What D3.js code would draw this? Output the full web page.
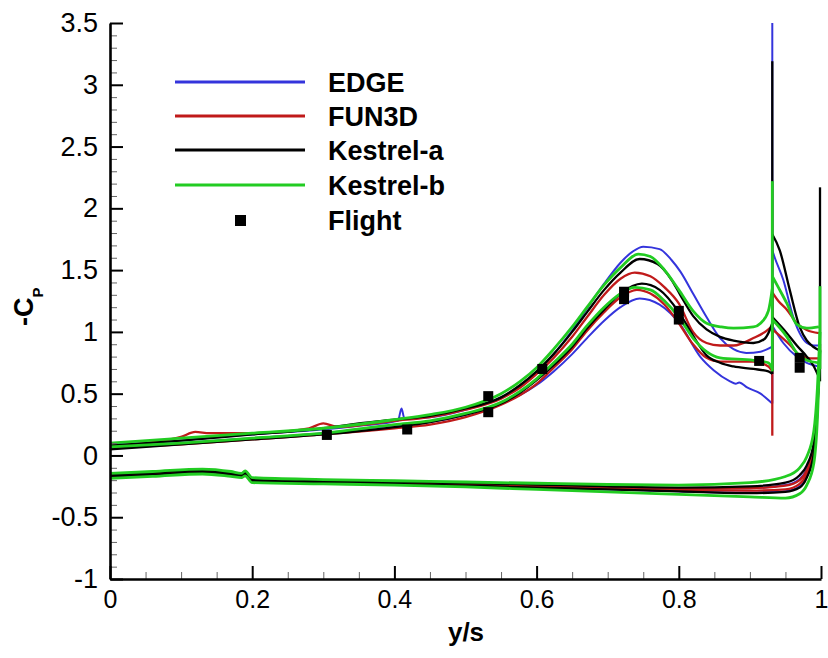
<!DOCTYPE html>
<html>
<head>
<meta charset="utf-8">
<script src="https://cdn.jsdelivr.net/npm/d3@7"></script>
<style>
  html, body { margin: 0; padding: 0; background: #fff; }
  svg text { font-family: "Liberation Sans", Arial, Helvetica, sans-serif; }
</style>
</head>
<body>
<svg id="chart" width="828" height="658"></svg>
<script>
// ---------------- DATA ----------------
const seriesNames = ["EDGE", "FUN3D", "Kestrel-a", "Kestrel-b"];
const xTicks = [0, 0.2, 0.4, 0.6, 0.8, 1];
const yTicks = [-1, -0.5, 0, 0.5, 1, 1.5, 2, 2.5, 3, 3.5];
const xTickLabels = ["0", "0.2", "0.4", "0.6", "0.8", "1"];
const yTickLabels = ["-1", "-0.5", "0", "0.5", "1", "1.5", "2", "2.5", "3", "3.5"];

// Flight data
const flightX  = [0.305, 0.418, 0.532, 0.532, 0.608, 0.723, 0.723, 0.80, 0.80, 0.913, 0.97, 0.97];
const flightCp = [0.166, 0.21, 0.48, 0.35, 0.70, 1.325, 1.265, 1.17, 1.10, 0.765, 0.79, 0.71];

// EDGE upper surface (two cases), outboard part, spike
const edgeUp1 = [[0,0.09],[0.05,0.1],[0.1,0.12],[0.15,0.15],[0.2,0.17],[0.25,0.19],[0.3,0.21],[0.35,0.24],[0.405,0.28],[0.41,0.38],[0.414,0.3],[0.45,0.31],[0.5,0.37],[0.55,0.47],[0.577,0.56],[0.6,0.67],[0.624,0.82],[0.65,1.01],[0.671,1.19],[0.695,1.39],[0.718,1.56],[0.735,1.65],[0.75,1.69],[0.773,1.67],[0.79,1.58],[0.802,1.49],[0.821,1.3],[0.839,1.12],[0.858,0.95],[0.877,0.86],[0.895,0.83],[0.915,0.84],[0.9315,0.88]];
const edgeUp2 = [[0,0.07],[0.1,0.1],[0.2,0.14],[0.3,0.18],[0.4,0.24],[0.45,0.27],[0.5,0.33],[0.55,0.42],[0.577,0.49],[0.6,0.57],[0.624,0.68],[0.65,0.82],[0.671,0.95],[0.695,1.09],[0.718,1.2],[0.745,1.27],[0.773,1.22],[0.802,1.06],[0.83,0.8],[0.849,0.69],[0.872,0.6],[0.88,0.58],[0.885,0.59],[0.896,0.55],[0.915,0.5],[0.9315,0.42]];
const edgeOut1 = [[0.9315,1.66],[0.935,1.6],[0.947,1.42],[0.961,1.12],[0.97,0.99],[0.98,0.91],[0.99,0.89],[0.998,0.89]];
const edgeOut2 = [[0.9315,1.05],[0.947,0.91],[0.966,0.8],[0.98,0.75],[0.998,0.72]];
const edgeSpike = [[0.9315,0.42],[0.9315,3.5]];

// FUN3D
const fun3dUp1 = [[0,0.08],[0.05,0.1],[0.1,0.15],[0.12,0.19],[0.14,0.18],[0.2,0.18],[0.28,0.22],[0.3,0.26],[0.32,0.23],[0.4,0.28],[0.45,0.31],[0.5,0.37],[0.55,0.46],[0.577,0.55],[0.6,0.66],[0.624,0.79],[0.65,0.96],[0.671,1.12],[0.695,1.3],[0.718,1.43],[0.738,1.48],[0.76,1.45],[0.78,1.36],[0.8,1.23],[0.82,1.0],[0.839,0.91],[0.858,0.89],[0.877,0.89],[0.905,0.95],[0.926,1.02],[0.9315,1.05]];
const fun3dUp2 = [[0,0.06],[0.1,0.09],[0.2,0.13],[0.3,0.17],[0.4,0.22],[0.45,0.25],[0.5,0.31],[0.55,0.41],[0.577,0.49],[0.6,0.58],[0.624,0.71],[0.65,0.86],[0.671,1.01],[0.695,1.16],[0.718,1.28],[0.741,1.34],[0.76,1.31],[0.78,1.22],[0.8,1.07],[0.82,0.9],[0.839,0.79],[0.858,0.76],[0.905,0.76],[0.926,0.72],[0.9315,0.68]];
const fun3dOut1 = [[0.9315,1.32],[0.94,1.25],[0.952,1.18],[0.966,1.07],[0.98,1.015],[0.997,0.99]];
const fun3dOut2 = [[0.9315,1.02],[0.957,0.89],[0.97,0.81],[0.985,0.786],[0.997,0.786]];
const fun3dSpike = [[0.9315,0.16],[0.9315,1.3]];

// Kestrel-a
const kestAUp1 = [[0,0.08],[0.1,0.12],[0.2,0.17],[0.3,0.22],[0.35,0.26],[0.4,0.29],[0.45,0.32],[0.5,0.38],[0.55,0.47],[0.577,0.57],[0.6,0.68],[0.624,0.82],[0.65,1.0],[0.671,1.16],[0.695,1.34],[0.718,1.48],[0.745,1.59],[0.77,1.55],[0.79,1.42],[0.802,1.3],[0.82,1.13],[0.839,1.02],[0.858,0.96],[0.877,0.93],[0.905,0.91],[0.92,0.94],[0.926,0.99],[0.9315,1.07]];
const kestAUp2 = [[0,0.05],[0.1,0.09],[0.2,0.13],[0.3,0.17],[0.4,0.23],[0.45,0.27],[0.5,0.33],[0.55,0.42],[0.577,0.51],[0.6,0.61],[0.624,0.73],[0.65,0.88],[0.671,1.03],[0.695,1.18],[0.718,1.31],[0.748,1.39],[0.773,1.34],[0.8,1.16],[0.82,0.97],[0.839,0.81],[0.858,0.75],[0.877,0.72],[0.905,0.7],[0.926,0.68],[0.9315,0.66]];
const kestAOut1 = [[0.9315,1.79],[0.942,1.66],[0.956,1.34],[0.97,1.04],[0.98,0.93],[0.989,0.88],[0.998,0.85]];
const kestAOut2 = [[0.9315,1.12],[0.952,0.99],[0.966,0.89],[0.98,0.8],[0.99,0.72],[0.998,0.62]];
const kestASpike = [[0.9315,0.66],[0.9315,3.19]];
const kestATipSpike = [[0.9986,0.6],[0.9986,2.17]];

// Kestrel-b
const kestBUp1 = [[0,0.1],[0.1,0.14],[0.2,0.18],[0.3,0.22],[0.4,0.29],[0.45,0.33],[0.5,0.39],[0.55,0.5],[0.577,0.6],[0.6,0.71],[0.624,0.86],[0.65,1.04],[0.671,1.2],[0.695,1.38],[0.718,1.52],[0.743,1.63],[0.76,1.61],[0.78,1.5],[0.8,1.34],[0.82,1.17],[0.839,1.07],[0.86,1.04],[0.877,1.03],[0.905,1.04],[0.915,1.07],[0.926,1.17],[0.9315,1.35]];
const kestBUp2 = [[0,0.07],[0.1,0.1],[0.2,0.14],[0.3,0.18],[0.4,0.25],[0.45,0.28],[0.5,0.34],[0.55,0.43],[0.577,0.52],[0.6,0.62],[0.624,0.75],[0.65,0.9],[0.671,1.05],[0.695,1.2],[0.718,1.31],[0.738,1.36],[0.76,1.34],[0.78,1.25],[0.8,1.12],[0.82,0.95],[0.839,0.84],[0.858,0.79],[0.905,0.77],[0.926,0.75],[0.9315,0.7]];
const kestBOut1 = [[0.9315,1.45],[0.94,1.36],[0.952,1.23],[0.966,1.06],[0.98,1.03],[0.997,1.04]];
const kestBOut2 = [[0.9315,1.1],[0.952,0.96],[0.966,0.83],[0.98,0.77],[0.997,0.75]];
const kestBSpike = [[0.9315,0.68],[0.9315,2.22]];
const kestBTipSpike = [[0.9986,0.7],[0.9986,1.37]];

// Lower surface (common stations, two cases per code)
const lowerX  = [0, 0.06, 0.13, 0.17, 0.185, 0.19, 0.2, 0.3, 0.4, 0.5, 0.6, 0.7, 0.8, 0.9, 0.95, 0.97, 0.98, 0.99, 0.995, 0.9986];
const edgeLo1  = [-0.16,-0.145,-0.125,-0.145,-0.16,-0.14,-0.195,-0.21,-0.22,-0.23,-0.245,-0.26,-0.27,-0.265,-0.24,-0.19,-0.11,0.08,0.42,0.88];
const edgeLo2  = [-0.17,-0.155,-0.135,-0.155,-0.17,-0.15,-0.205,-0.215,-0.23,-0.245,-0.26,-0.275,-0.29,-0.3,-0.29,-0.25,-0.17,0.03,0.38,0.85];
const fun3dLo1 = [-0.16,-0.145,-0.125,-0.145,-0.16,-0.14,-0.195,-0.21,-0.22,-0.23,-0.245,-0.26,-0.27,-0.265,-0.245,-0.2,-0.12,0.07,0.41,0.88];
const fun3dLo2 = [-0.165,-0.15,-0.13,-0.15,-0.165,-0.145,-0.2,-0.215,-0.225,-0.24,-0.255,-0.27,-0.28,-0.285,-0.275,-0.23,-0.15,0.04,0.39,0.86];
const kestALo1 = [-0.155,-0.14,-0.12,-0.14,-0.155,-0.135,-0.19,-0.205,-0.215,-0.225,-0.235,-0.25,-0.26,-0.25,-0.22,-0.16,-0.08,0.11,0.45,0.9];
const kestALo2 = [-0.17,-0.155,-0.135,-0.155,-0.17,-0.15,-0.205,-0.215,-0.23,-0.245,-0.26,-0.275,-0.29,-0.305,-0.295,-0.26,-0.18,0.02,0.37,0.85];
const kestBLo1 = [-0.145,-0.13,-0.11,-0.13,-0.145,-0.125,-0.18,-0.195,-0.205,-0.215,-0.225,-0.235,-0.24,-0.22,-0.17,-0.1,-0.01,0.2,0.55,1.0];
const kestBLo2 = [-0.185,-0.17,-0.15,-0.17,-0.18,-0.165,-0.22,-0.23,-0.24,-0.255,-0.275,-0.295,-0.315,-0.335,-0.345,-0.31,-0.24,-0.06,0.3,0.85];

// ---------------- DRAW ----------------
const svg = d3.select("#chart");
const x = d3.scaleLinear().domain([0, 1]).range([110, 821]);
const y = d3.scaleLinear().domain([-1, 3.5]).range([579, 23]);

const colors = { "EDGE": "#3434dc", "FUN3D": "#c01a1a", "Kestrel-a": "#000000", "Kestrel-b": "#22cc22" };
const widths = { "EDGE": 2, "FUN3D": 2.3, "Kestrel-a": 2.3, "Kestrel-b": 2.8 };

const zip = (xs, vs) => xs.map((d, i) => [d, vs[i]]);

const curves = {
  "EDGE": { smooth: [edgeUp1, edgeUp2, edgeOut1, edgeOut2, zip(lowerX, edgeLo1), zip(lowerX, edgeLo2)], straight: [edgeSpike] },
  "FUN3D": { smooth: [fun3dUp1, fun3dUp2, fun3dOut1, fun3dOut2, zip(lowerX, fun3dLo1), zip(lowerX, fun3dLo2)], straight: [fun3dSpike] },
  "Kestrel-a": { smooth: [kestAUp1, kestAUp2, kestAOut1, kestAOut2, zip(lowerX, kestALo1), zip(lowerX, kestALo2)], straight: [kestASpike, kestATipSpike] },
  "Kestrel-b": { smooth: [kestBUp1, kestBUp2, kestBOut1, kestBOut2, zip(lowerX, kestBLo1), zip(lowerX, kestBLo2)], straight: [kestBSpike, kestBTipSpike] }
};

const lineSmooth = d3.line().x(d => x(d[0])).y(d => y(d[1])).curve(d3.curveMonotoneX);
const lineStraight = d3.line().x(d => x(d[0])).y(d => y(d[1]));

const plot = svg.append("g");
seriesNames.forEach(name => {
  const g = plot.append("g").attr("fill", "none").attr("stroke", colors[name])
    .attr("stroke-width", widths[name]).attr("stroke-linejoin", "round");
  curves[name].smooth.forEach(c => g.append("path").attr("d", lineSmooth(c)));
  curves[name].straight.forEach(c => g.append("path").attr("d", lineStraight(c)));
});

// Flight markers
plot.append("g").selectAll("rect").data(zip(flightX, flightCp)).join("rect")
  .attr("x", d => x(d[0]) - 5).attr("y", d => y(d[1]) - 5)
  .attr("width", 10).attr("height", 10).attr("fill", "#000");

// Axes
const yMinor = d3.range(-10, 36).map(i => i / 10).filter(v => Math.abs(v * 2 - Math.round(v * 2)) > 1e-6);
const xMinor = d3.range(0, 21).map(i => i / 20).filter(v => Math.abs(v * 5 - Math.round(v * 5)) > 1e-6);

svg.append("g").attr("transform", "translate(110,0)")
  .call(d3.axisLeft(y).tickValues(yMinor).tickSize(-7).tickFormat(""))
  .call(g => g.select(".domain").remove())
  .call(g => g.selectAll("line").attr("stroke", "#666").attr("stroke-width", 1));
svg.append("g").attr("transform", "translate(0,579)")
  .call(d3.axisBottom(x).tickValues(xMinor).tickSize(-7).tickFormat(""))
  .call(g => g.select(".domain").remove())
  .call(g => g.selectAll("line").attr("stroke", "#666").attr("stroke-width", 1));

const yAxis = svg.append("g").attr("transform", "translate(110,0)")
  .call(d3.axisLeft(y).tickValues(yTicks).tickSize(-13).tickSizeOuter(0).tickPadding(12)
    .tickFormat((d, i) => yTickLabels[i]));
yAxis.select(".domain").attr("stroke", "#000").attr("stroke-width", 2.6);
yAxis.selectAll("line").attr("stroke-width", 2);
yAxis.selectAll("text").attr("font-size", 27).attr("fill", "#000");

const xAxis = svg.append("g").attr("transform", "translate(0,579)")
  .call(d3.axisBottom(x).tickValues(xTicks).tickSize(-13).tickSizeOuter(0).tickPadding(11)
    .tickFormat((d, i) => xTickLabels[i]));
xAxis.select(".domain").attr("stroke", "#000").attr("stroke-width", 2.6);
xAxis.selectAll("line").attr("stroke-width", 2);
xAxis.selectAll("text").attr("font-size", 25).attr("fill", "#000");

// Axis titles
svg.append("text").attr("x", 466).attr("y", 641).attr("text-anchor", "middle")
  .attr("font-size", 26).attr("font-weight", "bold").text("y/s");

const yt = svg.append("text").attr("transform", "translate(33,326) rotate(-90)")
  .attr("font-size", 27).attr("font-weight", "bold");
yt.append("tspan").text("-C");
yt.append("tspan").attr("font-size", 15).attr("dy", 10).text("P");

// Legend
const legendY = [82, 116, 150, 185];
const lg = svg.append("g");
seriesNames.forEach((name, i) => {
  lg.append("line").attr("x1", 175).attr("x2", 305).attr("y1", legendY[i]).attr("y2", legendY[i])
    .attr("stroke", colors[name]).attr("stroke-width", 3);
  lg.append("text").attr("x", 328).attr("y", legendY[i] + 9.5).attr("font-size", 27)
    .attr("font-weight", "bold").text(name);
});
lg.append("rect").attr("x", 235).attr("y", 215).attr("width", 11).attr("height", 11).attr("fill", "#000");
lg.append("text").attr("x", 328).attr("y", 229.5).attr("font-size", 27).attr("font-weight", "bold").text("Flight");
</script>
</body>
</html>
